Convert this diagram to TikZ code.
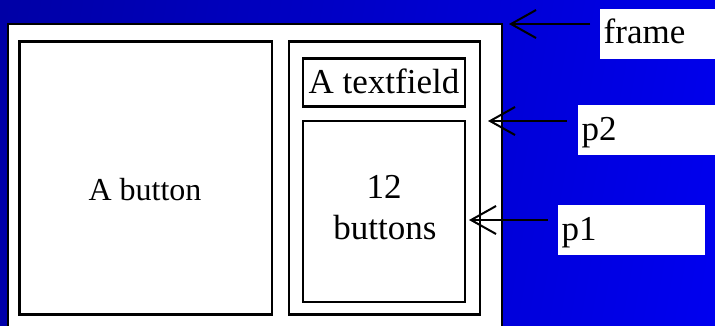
\documentclass[tikz,border=0pt]{standalone}
\usepackage{fontspec}
\setmainfont{LiberationSerif}[Extension=.ttf, UprightFont=*-Regular, BoldFont=*-Bold]
\newfontfamily\timesfont{LiberationSerif}[Extension=.ttf, UprightFont=*-Regular]
\usetikzlibrary{arrows.meta}
\definecolor{bgdark}{RGB}{0,0,165}
\definecolor{bglight}{RGB}{0,0,240}
\tikzset{
  box/.style={draw=black, line width=2.5bp, fill=white, inner sep=0pt},
  bigtxt/.style={font=\timesfont\fontsize{35bp}{41bp}\selectfont, inner sep=0pt, anchor=base},
  midtxt/.style={font=\timesfont\fontsize{32bp}{38bp}\selectfont, inner sep=0pt, anchor=base},
  lab/.style={fill=white, inner sep=0pt, inner xsep=3.5bp, anchor=north west,
    minimum height=50bp, text width=140bp, align=left,
    text height=26bp, text depth=6bp, font=\timesfont\fontsize{35bp}{41bp}\selectfont},
  arr/.style={draw=black, line width=2bp, -{Straight Barb[length=25bp,width=28bp]}}
}
\begin{document}
\begin{tikzpicture}[x=1bp,y=-1bp]
\useasboundingbox (0,0) rectangle (715,325);
\shade[left color=bgdark, right color=bglight, shading angle=80] (-60,-60) rectangle (775,385);
% frame
\node[box, minimum width=494bp, minimum height=321bp] (frame) at (255,184.5) {};
% A button
\node[box, minimum width=252.5bp, minimum height=273bp] (abtn) at (145.75,178) {};
\node[midtxt] (abtntxt) at (145,200) {A button};
% p2 panel
\node[box, minimum width=191bp, minimum height=273bp] (ptwo) at (384.5,178) {};
% textfield
\node[box, minimum width=162bp, minimum height=48bp] (tf) at (384,82.4) {};
\node[bigtxt] (tftxt) at (384,93.3) {A textfield};
% 12 buttons (p1)
\node[box, minimum width=162bp, minimum height=181bp] (pone) at (384,211.4) {};
\node[bigtxt] (twelve) at (384,198) {12};
\node[bigtxt] (buttons) at (385,239) {buttons};
% labels
\node[lab] (flab) at (600,8.3) {frame};
\node[lab] (p2lab) at (578,105) {p2};
\node[lab] (p1lab) at (558,205) {p1};
% arrow ends
\coordinate (ftip) at (509,24);
\coordinate (fstart) at (590,24);
\coordinate (p2tip) at (488,121);
\coordinate (p2start) at (567,121);
\coordinate (p1tip) at (469,220);
\coordinate (p1start) at (548,220);
\draw[arr] (fstart) -- (ftip);
\draw[arr] (p2start) -- (p2tip);
\draw[arr] (p1start) -- (p1tip);
\end{tikzpicture}
\end{document}
